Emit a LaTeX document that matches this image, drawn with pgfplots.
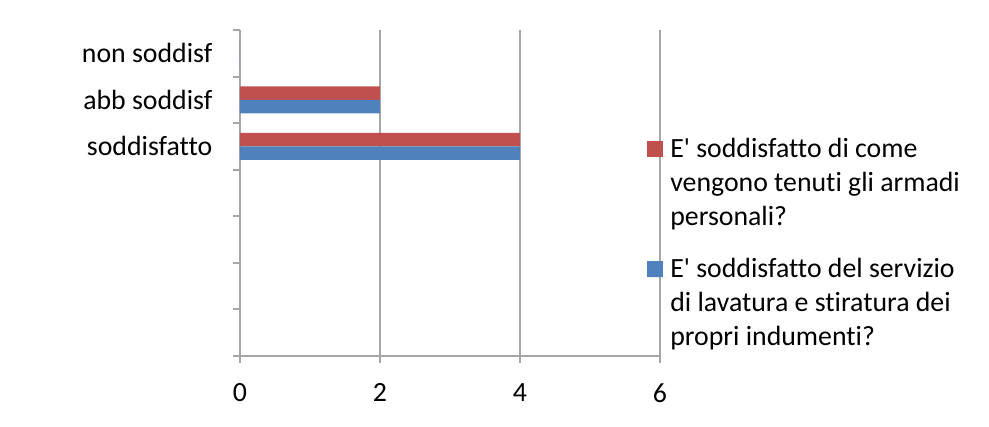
\documentclass[border=0pt]{standalone}
\usepackage{fontspec}
\setmainfont[Ligatures={NoCommon}]{Carlito}
\usepackage{pgfplots}
\pgfplotsset{compat=1.18}
\definecolor{redc}{HTML}{C0504D}
\definecolor{bluec}{HTML}{4F81BD}
\definecolor{gridc}{HTML}{A6A6A6}
\begin{document}
\fontsize{13.9}{16.5}\selectfont
\begin{tikzpicture}
\path[use as bounding box] (-120pt,-35.5pt) rectangle (374.5pt,178pt);
\begin{axis}[
  at={(0pt,0pt)}, anchor=south west,
  scale only axis, width=210pt, height=163pt,
  font=\fontsize{13.9}{16.5}\selectfont,
  /pgf/number format/assume math mode=true,
  xbar, bar width=0.29,
  xmin=0, xmax=6, ymin=0, ymax=7,
  axis x line=bottom, axis y line=left,
  axis line style={-, gridc, line width=1pt},
  xtick={0,2,4,6},
  ytick={0,1,2,3,4,5,6,7},
  yticklabels={},
  extra y ticks={4.5,5.5,6.5},
  extra y tick labels={soddisfatto,abb soddisf,non soddisf},
  extra y tick style={major tick length=0pt, yticklabel style={xshift=-9pt}},
  tick align=outside,
  major tick length=3.5pt,
  tick style={gridc, line width=1pt},
  xmajorgrids,
  major grid style={gridc, line width=1pt},
  xticklabel style={yshift=-5.5pt},
  legend style={at={(0.969,0.682)}, anchor=north west, draw=none, fill=none,
    inner sep=0pt, row sep=10.5pt,
    cells={anchor=base west, align=left},
    font=\fontsize{13.9}{17}\selectfont},
  legend cell align=left,
]
\addplot[fill=redc, draw=none, bar shift=0.145,
  legend image code/.code={\fill[redc] (0pt,13.5pt) rectangle (8pt,21.5pt);\path (0pt,13.5pt) -- (9.5pt,13.5pt);}]
  coordinates {(4,4.5) (2,5.5) (0,6.5)};
\addlegendentry{E\textquotesingle{} soddisfatto di come\\vengono tenuti gli armadi\\personali?}
\addplot[fill=bluec, draw=none, bar shift=-0.145,
  legend image code/.code={\fill[bluec] (0pt,13.5pt) rectangle (8pt,21.5pt);\path (0pt,13.5pt) -- (9.5pt,13.5pt);}]
  coordinates {(4,4.5) (2,5.5) (0,6.5)};
\addlegendentry{E\textquotesingle{} soddisfatto del servizio\\di lavatura e stiratura dei\\propri indumenti?}
\end{axis}
\end{tikzpicture}
\end{document}
